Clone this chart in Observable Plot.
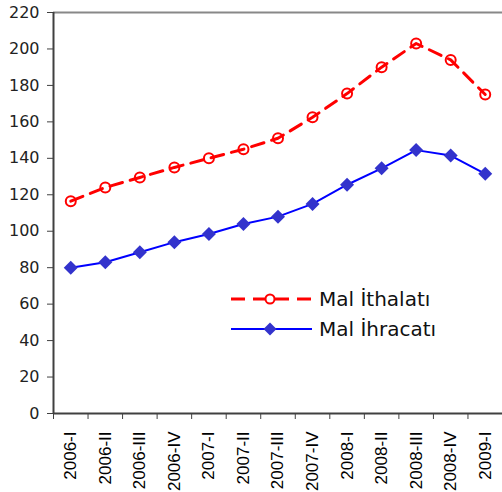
<!DOCTYPE html>
<html>
<head>
<meta charset="utf-8">
<script src="https://cdn.jsdelivr.net/npm/d3@7"></script>
<script src="https://cdn.jsdelivr.net/npm/@observablehq/plot@0.6"></script>
<style>
  html, body { margin: 0; padding: 0; background: #fff; }
  #wrap { position: relative; width: 502px; height: 492px; overflow: hidden; }
  .leg { position: absolute; display: flex; align-items: center; font-family: "DejaVu Sans", sans-serif; font-size: 20px; color: #111; white-space: nowrap; }
  .leg svg { display: block; margin-right: 6px; }
</style>
</head>
<body>
<div id="wrap"></div>
<script>
const categories = ["2006-I","2006-II","2006-III","2006-IV","2007-I","2007-II","2007-III","2007-IV","2008-I","2008-II","2008-III","2008-IV","2009-I"];
const imports = [116.5, 124, 129.5, 135, 140, 145, 151, 162.5, 175.5, 190, 203, 194, 175];
const exports = [80, 83, 88.5, 94, 98.5, 104, 108, 115, 125.5, 134.5, 144.5, 141.5, 131.5];
const yTicks = [0, 20, 40, 60, 80, 100, 120, 140, 160, 180, 200, 220];
const seriesNames = ["Mal İthalatı", "Mal İhracatı"];

const impData = categories.map((c, i) => ({i, c, v: imports[i]}));
const expData = categories.map((c, i) => ({i, c, v: exports[i]}));
const boundaries = d3.range(categories.length + 1).map(k => k - 0.5);

const RED = "#FF0000", BLUE = "#0000FF", DIAM = "#3333CC";

const chart = Plot.plot({
  width: 502,
  height: 492,
  marginLeft: 53,
  marginRight: 0,
  marginTop: 12,
  marginBottom: 79,
  x: {type: "linear", domain: [-0.5, categories.length - 0.5]},
  y: {domain: [0, 220]},
  style: {background: "white"},
  marks: [
    Plot.ruleY([220], {stroke: "#888", strokeWidth: 2}),
    Plot.axisY({ticks: yTicks, tickSize: 6, tickPadding: 8, label: null, fontSize: 16, fontFamily: "DejaVu Sans", stroke: "#404040", color: "#222"}),
    Plot.axisX({ticks: boundaries, tickSize: 6, tickFormat: () => "", label: null, stroke: "#404040"}),
    Plot.axisX({ticks: d3.range(categories.length), tickSize: 0, tickPadding: 18, tickRotate: -90, tickFormat: i => categories[i], label: null, fontSize: 17, fontFamily: "Liberation Sans, Arial", color: "#000"}),
    Plot.ruleX([-0.5], {stroke: "#404040", strokeWidth: 2}),
    Plot.ruleY([0], {stroke: "#404040", strokeWidth: 2}),
    Plot.line(impData, {x: "i", y: "v", stroke: RED, strokeWidth: 3, strokeDasharray: "13,8"}),
    Plot.dot(impData, {x: "i", y: "v", r: 5, stroke: RED, strokeWidth: 2, fill: "none"}),
    Plot.line(expData, {x: "i", y: "v", stroke: BLUE, strokeWidth: 2}),
    Plot.dot(expData, {x: "i", y: "v", symbol: "diamond2", r: 6.3, fill: DIAM, stroke: "none"})
  ]
});
const wrap = document.getElementById("wrap");
wrap.appendChild(chart);

function legendRow(top, svgInner, label) {
  const d = document.createElement("div");
  d.className = "leg";
  d.style.left = "231px";
  d.style.top = top + "px";
  d.style.height = "24px";
  d.innerHTML = `<svg width="82" height="24">${svgInner}</svg><span>${label}</span>`;
  wrap.appendChild(d);
}
legendRow(287,
  `<line x1="0" y1="12" x2="81" y2="12" stroke="${RED}" stroke-width="3" stroke-dasharray="14,8"/>
   <circle cx="39" cy="12" r="4.5" fill="white" stroke="${RED}" stroke-width="2"/>`,
  seriesNames[0]);
legendRow(317,
  `<line x1="0" y1="12" x2="81" y2="12" stroke="${BLUE}" stroke-width="2"/>
   <path d="M39,5.5L45.5,12L39,18.5L32.5,12Z" fill="${DIAM}"/>`,
  seriesNames[1]);
</script>
</body>
</html>
